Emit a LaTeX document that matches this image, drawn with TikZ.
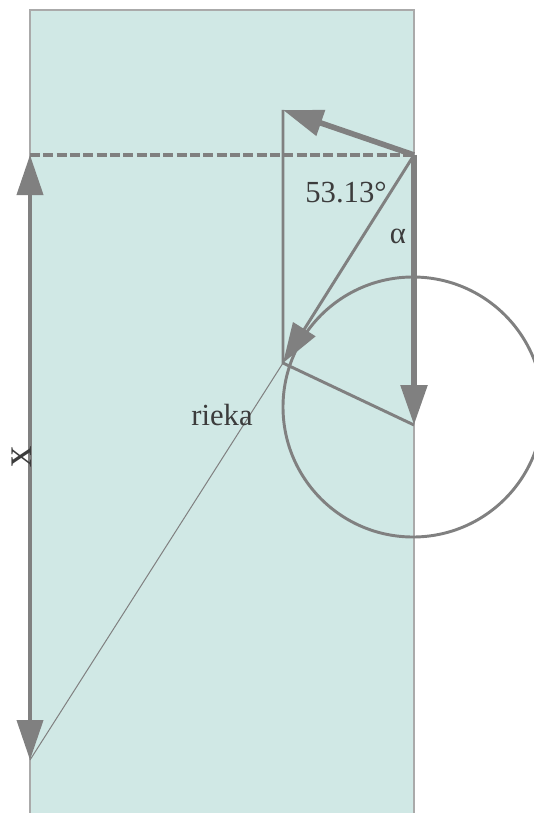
\documentclass[tikz,border=0pt]{standalone}
\usepackage{fontspec}
\setmainfont{Liberation Serif}
\usetikzlibrary{arrows.meta}

\begin{document}
\begin{tikzpicture}[
    x=0.75pt, y=-0.75pt,
    font=\fontsize{23}{27}\selectfont
]

% Colors: river water, vectors, river banks, text
\definecolor{river}{RGB}{208, 232, 229}
\definecolor{vec}{RGB}{128, 128, 128}
\definecolor{bank}{RGB}{170, 170, 170}
\definecolor{ink}{RGB}{60, 60, 60}

\tikzset{
    headtip/.style={-{Triangle[length=30pt, width=19.5pt]}},
    bothtips/.style={{Triangle[length=30pt, width=19.5pt]}-{Triangle[length=30pt, width=19.5pt]}},
    label/.style={text=ink, inner sep=0pt}
}

% Picture frame (px coordinates)
\useasboundingbox (0, 0) rectangle (534, 813);

% River
\fill[river] (30, 10) rectangle (414, 820);
\draw[bank, line width=1.2pt] (30, 820) -- (30, 10) -- (414, 10) -- (414, 820);

% Key points
\coordinate (start) at (414, 155);
\coordinate (up) at (283, 110);
\coordinate (land) at (283, 363);
\coordinate (drift) at (414, 425);
\coordinate (bottom) at (30, 760);
\coordinate (top) at (30, 155);
\coordinate (centre) at (413, 407);

% Dashed line across the river
\draw[vec, line width=2.6pt, dash pattern=on 7.5pt off 2.5pt] (top) -- (start);

% Width x of the river
\draw[vec, line width=3pt, bothtips] (bottom) -- (top);

% Path of the boat
\draw[vec, line width=0.75pt] (bottom) -- (land);

% Circle of possible velocities
\draw[vec, line width=2.2pt] (centre) circle (130);

% Velocity triangle
\draw[vec, line width=2.2pt] (up) -- (land) -- (drift);
\draw[vec, line width=4.2pt, headtip] (start) -- (up);
\draw[vec, line width=4.2pt, headtip] (start) -- (drift);
\draw[vec, line width=2.2pt, headtip] (start) -- (land);

% Labels
\node[label] (angle) at (346, 193) {53.13°};
\node[label] (alpha) at (398, 236) {α};
\node[label] (name) at (222, 415) {rieka};
\node[label, rotate=90, font=\fontsize{32}{36}\selectfont] (width) at (22, 457) {x};

\end{tikzpicture}
\end{document}
